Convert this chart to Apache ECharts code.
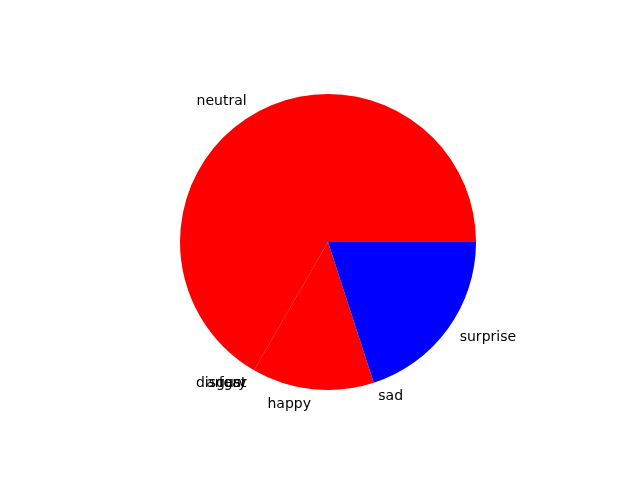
<!DOCTYPE html>
<html>
<head>
<meta charset="utf-8">
<script src="https://cdn.jsdelivr.net/npm/echarts@6/dist/echarts.min.js"></script>
<style>
  html, body { margin: 0; padding: 0; background: #fff; }
  #chart { width: 640px; height: 480px; }
</style>
</head>
<body>
<div id="chart"></div>
<script>
  // emotion share, in draw order (counter-clockwise from 3 o'clock)
  var labels = ['neutral', 'angry', 'disgust', 'fear', 'happy', 'sad', 'surprise']
  var values = [10, 0, 0, 0, 2, 0, 3]
  var colors = ['red', 'red', 'red', 'red', 'red', 'blue', 'blue']

  var radius = 148
  var data = labels.map(function (name, i) {
    return { name: name, value: values[i], itemStyle: { color: colors[i] } }
  })

  var chart = echarts.init(document.getElementById('chart'))
  chart.setOption({
    animation: false,
    backgroundColor: '#fff',
    series: [
      {
        type: 'pie',
        center: [328, 242],
        radius: [0, radius],
        startAngle: 0,
        clockwise: false,
        avoidLabelOverlap: false,
        minShowLabelAngle: 0,
        data: data,
        itemStyle: { borderWidth: 0 },
        label: {
          show: true,
          position: 'outside',
          color: '#000',
          fontFamily: 'DejaVu Sans',
          fontSize: 14,
          padding: [3, 0, 0, 0],
          distanceToLabelLine: 0
        },
        labelLine: {
          show: false,
          length: radius * 0.1,
          length2: 0
        },
        labelLayout: { hideOverlap: false },
        emphasis: { disabled: true }
      }
    ]
  })
</script>
</body>
</html>
